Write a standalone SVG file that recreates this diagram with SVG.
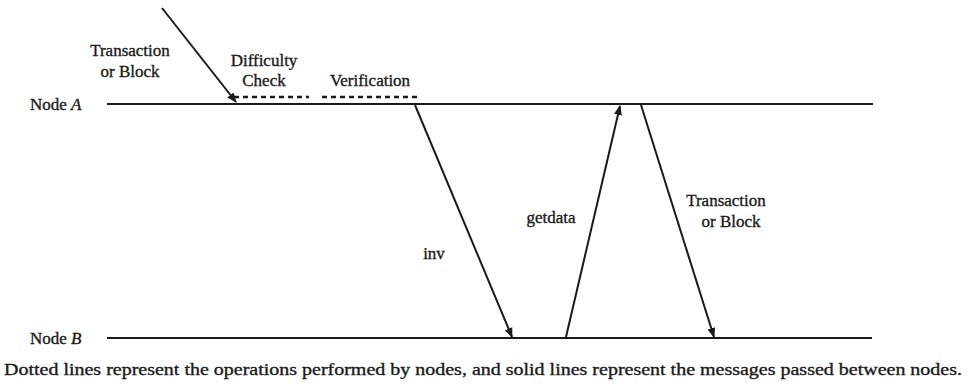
<svg xmlns="http://www.w3.org/2000/svg" width="967" height="389" viewBox="0 0 967 389">
  <style>
    .t { font-family: "Liberation Serif", "Times New Roman", serif; font-size: 17px; fill: #1a1a1a; stroke: #1a1a1a; stroke-width: 0.35; }
    .c { text-anchor: middle; }
    .line { stroke: #1a1a1a; stroke-width: 2; fill: none; }
    .msg { stroke: #1a1a1a; stroke-width: 2; fill: none; marker-end: url(#head); }
    .op { stroke: #1a1a1a; stroke-width: 2.5; stroke-dasharray: 5 4; fill: none; }
  </style>
  <defs>
    <marker id="head" viewBox="0 0 10 10" refX="9" refY="5" markerWidth="5" markerHeight="5" orient="auto" markerUnits="strokeWidth">
      <path d="M0,1 L10,5 L0,9 z" fill="#1a1a1a"/>
    </marker>
  </defs>
  <rect width="967" height="389" fill="#ffffff"/>

  <g id="nodeA">
    <text class="t" x="30" y="110">Node <tspan font-style="italic">A</tspan></text>
    <line class="line" x1="107" y1="104" x2="873" y2="104"/>
  </g>
  <g id="nodeB">
    <text class="t" x="30" y="344">Node <tspan font-style="italic">B</tspan></text>
    <line class="line" x1="107" y1="338" x2="872" y2="338"/>
  </g>

  <g id="operations">
    <line class="op" x1="234" y1="97" x2="309" y2="97"/>
    <text class="t c" x="264" y="66">Difficulty</text>
    <text class="t c" x="264" y="86">Check</text>
    <line class="op" x1="322" y1="97" x2="421" y2="97"/>
    <text class="t c" x="370" y="86">Verification</text>
  </g>

  <g id="connectors">
    <line class="msg" x1="162" y1="8" x2="236" y2="102"/>
    <line class="msg" x1="415" y1="105" x2="512" y2="337"/>
    <line class="msg" x1="566" y1="337" x2="620" y2="106"/>
    <line class="msg" x1="641" y1="105" x2="714" y2="337"/>
  </g>

  <g id="labels">
    <text class="t c" x="130" y="56">Transaction</text>
    <text class="t c" x="130" y="77">or Block</text>
    <text class="t c" x="434" y="259">inv</text>
    <text class="t c" x="551" y="223">getdata</text>
    <text class="t c" x="726" y="206">Transaction</text>
    <text class="t c" x="731" y="227">or Block</text>
  </g>

  <text class="t" x="4" y="375" textLength="958" lengthAdjust="spacingAndGlyphs">Dotted lines represent the operations performed by nodes, and solid lines represent the messages passed between nodes.</text>
</svg>
